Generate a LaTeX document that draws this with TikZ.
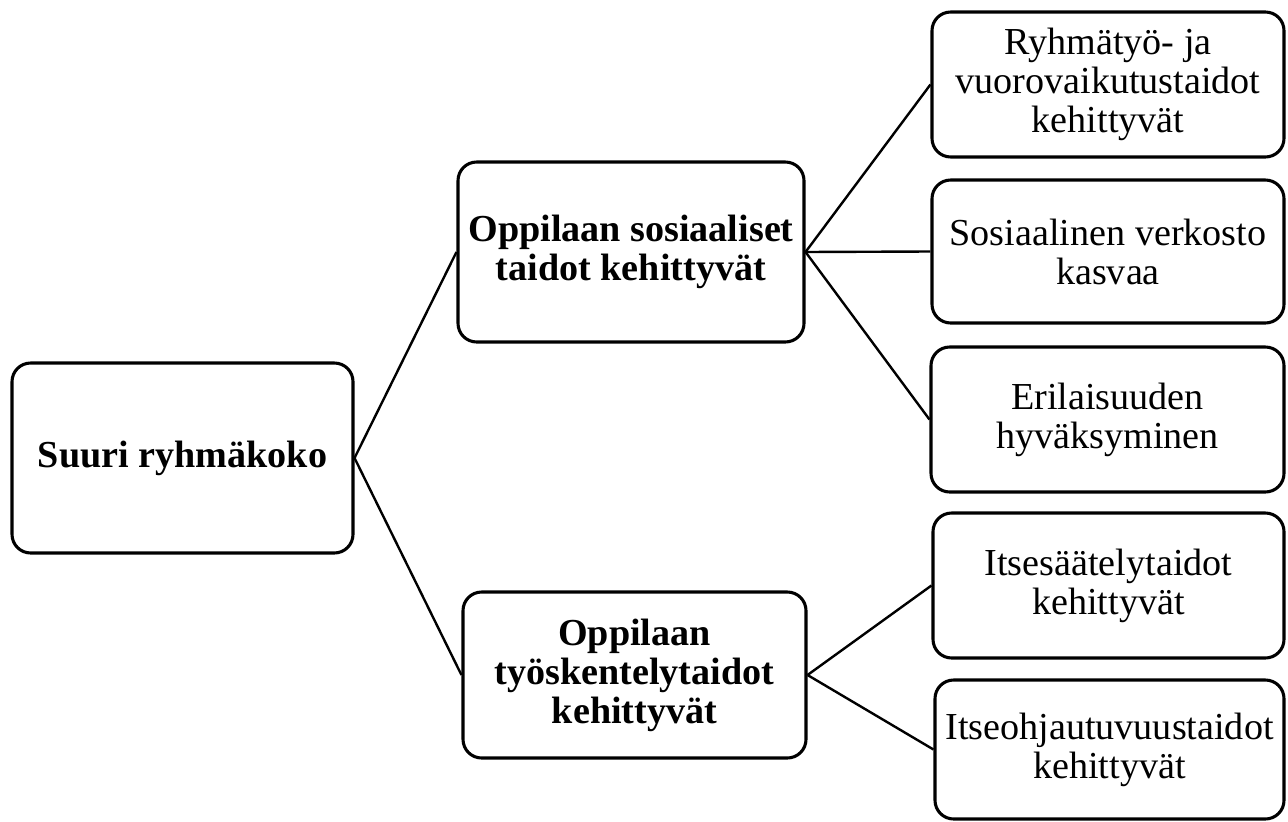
\documentclass[tikz,border=0pt]{standalone}
\usepackage{fontspec}
\setmainfont{Liberation Serif}
\begin{document}
\begin{tikzpicture}[x=0.75pt,y=-0.75pt,
  box/.style 2 args={draw, rounded corners=14pt, line width=2.3pt,
    minimum width={#1*0.75pt}, minimum height={#2*0.75pt},
    inner sep=0pt, align=center, font=\fontsize{28.6}{29.2}\selectfont},
  mainbox/.style 2 args={box={#1}{#2}, font=\fontsize{28.6}{29.2}\selectfont\bfseries},
  link/.style={line width=1.8pt}]
\useasboundingbox (0,0) rectangle (1288,821);

% root and the two branches
\node[mainbox={341}{190}] (root) at (182.5,458) {Suuri ryhmäkoko};
\node[mainbox={346}{180}] (social) at (631,252) {Oppilaan sosiaaliset\\taidot kehittyvät};
\node[mainbox={343}{166}] (work) at (634.5,675) {Oppilaan\\työskentelytaidot\\kehittyvät};

% outcomes
\node[box={352}{145}] (team) at (1108,84.5) {Ryhmätyö- ja\\vuorovaikutustaidot\\kehittyvät};
\node[box={352}{143}] (network) at (1108,251.5) {Sosiaalinen verkosto\\kasvaa};
\node[box={353}{145}] (diverse) at (1107.5,419.5) {Erilaisuuden\\hyväksyminen};
\node[box={351}{145}] (selfreg) at (1108.5,585.5) {Itsesäätelytaidot\\kehittyvät};
\node[box={349}{139}] (selfdir) at (1109.5,749.5) {Itseohjautuvuustaidot\\kehittyvät};

% connectors
\draw[link] (root.east) -- (social.west);
\draw[link] (root.east) -- (work.west);
\draw[link] (social.east) -- (team.west);
\draw[link] (social.east) -- (network.west);
\draw[link] (social.east) -- (diverse.west);
\draw[link] (work.east) -- (selfreg.west);
\draw[link] (work.east) -- (selfdir.west);
\end{tikzpicture}
\end{document}
